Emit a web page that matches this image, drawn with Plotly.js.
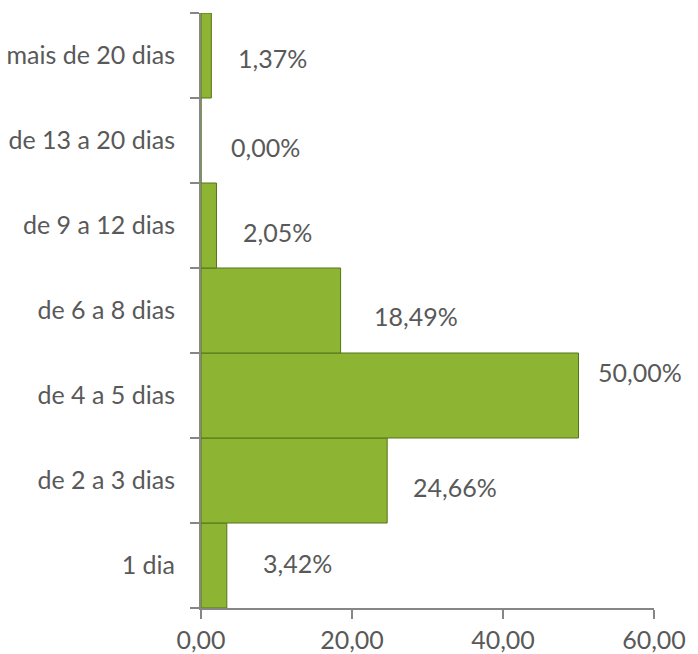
<!DOCTYPE html>
<html>
<head>
<meta charset="utf-8">
<script src="https://cdn.plot.ly/plotly-3.0.1.min.js"></script>
<style>html,body{margin:0;padding:0;background:#fff;}#chart{width:698px;height:654px;}</style>
</head>
<body>
<div id="chart"></div>
<script>
// Data (bottom to top)
const categories = ["1 dia", "de 2 a 3 dias", "de 4 a 5 dias", "de 6 a 8 dias", "de 9 a 12 dias", "de 13 a 20 dias", "mais de 20 dias"];
const values = [3.42, 24.66, 50.00, 18.49, 2.05, 0.00, 1.37];
const xTicks = [0, 20, 40, 60];

// Label placement offsets (pixels, style only)
const labelDx = [71, 68, 61, 75, 61, 64, 61];
const labelDy = [3, -6, 24, -5, -6, -6, -2];

const fmt = v => v.toFixed(2).replace('.', ',');
const FONT = "Lato, 'Liberation Sans', sans-serif";
const GREY = "#595959";
const AXIS = "#868686";
const FS = 25;

const trace = {
  type: "bar",
  orientation: "h",
  x: values,
  y: categories,
  marker: { color: "#8DB432", line: { color: "#56741A", width: 1 } },
  hoverinfo: "skip"
};

const annotations = values.map((v, i) => ({
  x: v, y: categories[i], xref: "x", yref: "y",
  text: fmt(v) + "%", showarrow: false,
  xanchor: "center", yanchor: "middle",
  xshift: labelDx[i], yshift: labelDy[i],
  font: { family: FONT, size: FS, color: GREY }
}));

const layout = {
  width: 698, height: 654,
  margin: { l: 201, r: 44, t: 13, b: 46, pad: 0 },
  paper_bgcolor: "#fff", plot_bgcolor: "#fff",
  showlegend: false,
  bargap: 0,
  separators: ",.",
  font: { family: FONT, size: FS, color: GREY },
  xaxis: {
    range: [0, 60], tickvals: xTicks, tickformat: ".2f",
    showgrid: false, zeroline: false,
    showline: true, linecolor: AXIS, linewidth: 2,
    ticks: "outside", ticklen: 9, tickwidth: 2, tickcolor: AXIS,
    tickfont: { family: FONT, size: FS, color: GREY },
    fixedrange: true
  },
  yaxis: {
    type: "category", categoryorder: "array", categoryarray: categories,
    range: [-0.5, 6.5], tickson: "boundaries",
    showgrid: false, zeroline: false,
    showline: true, linecolor: AXIS, linewidth: 2,
    ticks: "outside", ticklen: 9, tickwidth: 2, tickcolor: AXIS,
    ticklabelstandoff: 19,
    tickfont: { family: FONT, size: FS, color: GREY },
    fixedrange: true
  },
  annotations: annotations
};

Plotly.newPlot("chart", [trace], layout, { displayModeBar: false, staticPlot: true });
</script>
</body>
</html>
